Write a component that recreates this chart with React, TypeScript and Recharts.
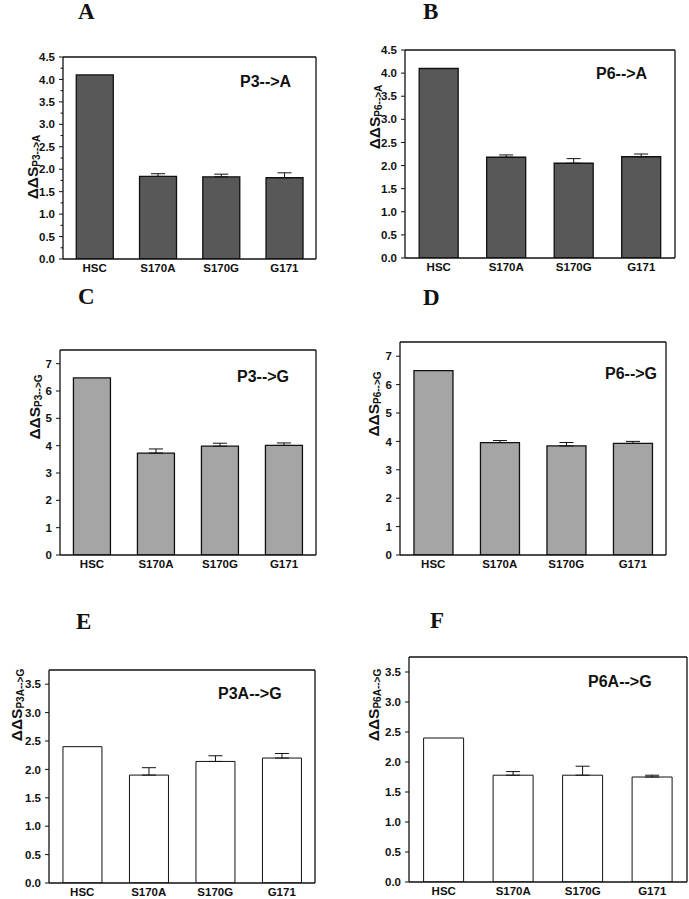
import React from "react";
import { BarChart, Bar, XAxis, YAxis, ErrorBar } from "recharts";

// categories shared by all six panels
const categories = ["HSC", "S170A", "S170G", "G171"];

// bar heights and upper error (null = no error bar)
const p3ToA = [4.1, 1.84, 1.83, 1.81];
const p3ToAErr = [null, 0.06, 0.06, 0.11];
const p6ToA = [4.1, 2.18, 2.05, 2.19];
const p6ToAErr = [null, 0.05, 0.1, 0.06];
const p3ToG = [6.48, 3.73, 3.98, 4.01];
const p3ToGErr = [null, 0.15, 0.11, 0.09];
const p6ToG = [6.49, 3.96, 3.84, 3.93];
const p6ToGErr = [null, 0.07, 0.12, 0.07];
const p3aToG = [2.4, 1.9, 2.14, 2.2];
const p3aToGErr = [null, 0.13, 0.1, 0.08];
const p6aToG = [2.4, 1.78, 1.78, 1.75];
const p6aToGErr = [null, 0.06, 0.15, 0.03];

// tick values
const ticksTo45 = [0, 0.5, 1, 1.5, 2, 2.5, 3, 3.5, 4, 4.5];
const minorTo45 = [0.25, 0.75, 1.25, 1.75, 2.25, 2.75, 3.25, 3.75, 4.25];
const ticksTo7 = [0, 1, 2, 3, 4, 5, 6, 7];
const ticksTo35 = [0, 0.5, 1, 1.5, 2, 2.5, 3, 3.5];

const SANS = "'Liberation Sans', Arial, Helvetica, sans-serif";
const SERIF = "'Liberation Serif', 'Times New Roman', serif";
const INK = "#111";
const DARK = "#585858";
const LIGHT = "#a5a5a5";
const WHITE = "#ffffff";

const TICK_SIZE = 4;
const TICK_MARGIN = 4;

// box = plot frame in page pixels [left, top, right, bottom]
const panels = [
  { letter: "A", letterPos: [78, 0], box: [63, 57, 316, 259], values: p3ToA, errors: p3ToAErr, fill: DARK, domain: [0, 4.5], ticks: ticksTo45, minor: minorTo45, digits: 1, sub: "P3-->A", notePos: [240, 74], label: [38, 167] },
  { letter: "B", letterPos: [423, 0], box: [405, 50, 675, 258], values: p6ToA, errors: p6ToAErr, fill: DARK, domain: [0, 4.5], ticks: ticksTo45, minor: [], digits: 1, sub: "P6-->A", notePos: [596, 66], label: [380, 117] },
  { letter: "C", letterPos: [78, 285], box: [60, 350, 316, 555], values: p3ToG, errors: p3ToGErr, fill: LIGHT, domain: [0, 7.5], ticks: ticksTo7, minor: [], digits: 0, sub: "P3-->G", notePos: [237, 369], label: [40, 407] },
  { letter: "D", letterPos: [423, 286], box: [400, 342, 666, 555], values: p6ToG, errors: p6ToGErr, fill: LIGHT, domain: [0, 7.5], ticks: ticksTo7, minor: [], digits: 0, sub: "P6-->G", notePos: [605, 366], label: [379, 404] },
  { letter: "E", letterPos: [76, 610], box: [49, 670, 315, 883], values: p3aToG, errors: p3aToGErr, fill: WHITE, domain: [0, 3.75], ticks: ticksTo35, minor: [], digits: 1, sub: "P3A-->G", notePos: [218, 686], label: [22, 705] },
  { letter: "F", letterPos: [430, 609], box: [409, 657, 687, 882], values: p6aToG, errors: p6aToGErr, fill: WHITE, domain: [0, 3.75], ticks: ticksTo35, minor: [], digits: 1, sub: "P6A-->G", notePos: [588, 674], label: [379, 705] },
];

function YTick(props: any) {
  const { x, y, payload, minor, digits } = props;
  const isMinor = minor.includes(payload.value);
  const axisX = x + TICK_SIZE + TICK_MARGIN;
  const len = isMinor ? 2.5 : TICK_SIZE;
  return (
    <g>
      <line x1={axisX - len} x2={axisX} y1={y} y2={y} stroke={INK} strokeWidth={1} />
      {!isMinor && (
        <text x={x} y={y} dy="0.36em" textAnchor="end" fontFamily={SANS} fontWeight={700} fontSize={11.5} fill={INK}>
          {Number(payload.value).toFixed(digits)}
        </text>
      )}
    </g>
  );
}

function YLabel({ cx, cy, sub }: any) {
  return (
    <text x={cx} y={cy} transform={`rotate(-90 ${cx} ${cy})`} textAnchor="middle" fontFamily={SANS} fontWeight={700} fill={INK}>
      <tspan fontSize={15.5}>ΔΔS</tspan>
      <tspan fontSize={10} dy={2}>{sub}</tspan>
    </text>
  );
}

function Panel({ p }: any) {
  const [x0, y0, x1, y1] = p.box;
  const left = x0 - 60;
  const top = y0 - 20;
  const W = x1 - x0 + 70;
  const H = y1 - y0 + 50;
  const data = categories.map((name, i) => ({
    name,
    value: p.values[i],
    err: p.errors[i] == null ? null : [0, p.errors[i]],
  }));
  const allTicks = [...p.ticks, ...p.minor].sort((a, b) => a - b);
  const frame = { stroke: INK, strokeWidth: 1.3 };
  return (
    <div style={{ position: "absolute", left, top, width: W, height: H }}>
      <BarChart width={W} height={H} data={data} margin={{ top: 19, right: 9, bottom: 0, left: 0 }} barCategoryGap="21%">
        <XAxis
          dataKey="name"
          height={30}
          interval={0}
          tickLine={false}
          tickSize={0}
          tickMargin={5}
          axisLine={frame}
          tick={{ fill: INK, fontSize: 11.5, fontWeight: 700, fontFamily: SANS }}
        />
        {/* top and right edges of the frame */}
        <XAxis xAxisId="top" dataKey="name" orientation="top" height={1} tick={false} tickLine={false} axisLine={frame} />
        <YAxis
          type="number"
          width={60}
          domain={p.domain}
          ticks={allTicks}
          interval={0}
          allowDataOverflow
          tickLine={false}
          tickSize={TICK_SIZE}
          tickMargin={TICK_MARGIN}
          axisLine={frame}
          tick={<YTick minor={p.minor} digits={p.digits} />}
          label={<YLabel cx={p.label[0] - left} cy={p.label[1] - top} sub={p.sub} />}
        />
        <YAxis yAxisId="right" orientation="right" width={1} domain={[0, 1]} tick={false} tickLine={false} axisLine={frame} />
        <Bar dataKey="value" fill={p.fill} stroke={INK} strokeWidth={p.fill === WHITE ? 1 : 1.3} isAnimationActive={false}>
          <ErrorBar dataKey="err" direction="y" width={7} stroke={INK} strokeWidth={1} isAnimationActive={false} />
        </Bar>
      </BarChart>
    </div>
  );
}

export default function App() {
  return (
    <div style={{ position: "absolute", left: 0, top: 0, width: 689, height: 899, overflow: "hidden", background: "#fff" }}>
      {panels.map((p) => (
        <React.Fragment key={p.letter}>
          <div style={{ position: "absolute", left: p.letterPos[0], top: p.letterPos[1], fontFamily: SERIF, fontWeight: 700, fontSize: 23, lineHeight: 1, color: INK }}>
            {p.letter}
          </div>
          <Panel p={p} />
          <div style={{ position: "absolute", left: p.notePos[0], top: p.notePos[1], fontFamily: SANS, fontWeight: 700, fontSize: 16, lineHeight: 1, color: INK, whiteSpace: "nowrap" }}>
            {p.sub}
          </div>
        </React.Fragment>
      ))}
    </div>
  );
}
